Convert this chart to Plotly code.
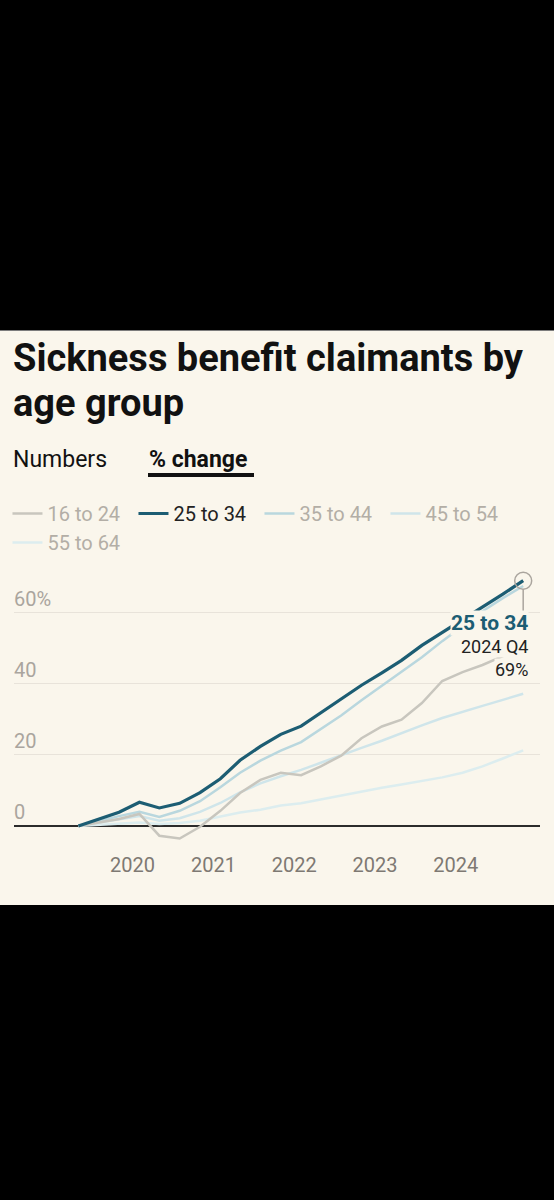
import pandas as pd
import plotly.graph_objects as go

# quarterly % change in sickness benefit claimants since 2019 Q2
quarters = ["2019Q2", "2019Q3", "2019Q4", "2020Q1", "2020Q2", "2020Q3", "2020Q4",
            "2021Q1", "2021Q2", "2021Q3", "2021Q4", "2022Q1", "2022Q2", "2022Q3",
            "2022Q4", "2023Q1", "2023Q2", "2023Q3", "2023Q4", "2024Q1", "2024Q2",
            "2024Q3", "2024Q4"]

age_16_24 = [0, 1.0, 2.0, 3.4, -2.7, -3.5, -0.2, 4.3, 9.3, 13.0, 15.0, 14.3, 16.8,
             19.8, 24.7, 28.0, 29.9, 34.6, 40.8, 43.3, 45.3, 47.8, 50.5]
age_25_34 = [0, 2.0, 3.9, 6.7, 5.1, 6.4, 9.4, 13.3, 18.5, 22.4, 25.8, 28.1, 31.8,
             35.8, 39.6, 43.1, 46.6, 50.8, 54.4, 58.0, 61.6, 65.2, 69.0]
age_35_44 = [0, 1.5, 2.8, 4.0, 2.6, 4.3, 7.0, 10.9, 15.0, 18.4, 21.2, 23.6, 27.3,
             31.1, 35.4, 39.5, 43.3, 47.5, 52.0, 56.3, 60.4, 64.1, 67.5]
age_45_54 = [0, 1.0, 1.8, 2.8, 1.5, 2.2, 4.0, 6.5, 9.5, 12.0, 14.0, 15.8, 17.8,
             20.0, 22.0, 24.0, 26.2, 28.3, 30.4, 32.2, 33.8, 35.5, 37.2]
age_55_64 = [0, 0.3, 0.6, 1.0, 0.6, 0.9, 1.5, 2.6, 3.8, 4.6, 5.8, 6.4, 7.5,
             8.6, 9.8, 10.8, 11.7, 12.7, 13.7, 15.0, 16.8, 19.0, 21.3]

# plotted at the start of each quarter's middle month
dates = [pd.Period(q, freq="Q").start_time + pd.DateOffset(months=1) for q in quarters]

BG = "#faf6ec"
TEAL = "#1c5d73"
GREY_TXT = "#b3aea6"

series = [
    ("16 to 24", age_16_24, "#c8c6be", 2.5, 1),
    ("25 to 34", age_25_34, TEAL, 3.2, 2),
    ("35 to 44", age_35_44, "#b9d7de", 2.5, 3),
    ("45 to 54", age_45_54, "#cfe5ea", 2.5, 4),
    ("55 to 64", age_55_64, "#dcedef", 2.5, 5),
]

fig = go.Figure()
# draw the highlighted line last so it sits on top
for name, vals, col, w, rank in sorted(series, key=lambda s: (s[0] == "25 to 34", -s[4])):
    label = name if name == "25 to 34" else "<span style='color:%s'>%s</span>" % (GREY_TXT, name)
    fig.add_trace(go.Scatter(x=dates, y=vals, name=label, mode="lines",
                             line=dict(color=col, width=w), legendrank=rank,
                             hoverinfo="skip"))

# end point marker
fig.add_trace(go.Scatter(x=[dates[-1]], y=[age_25_34[-1]], mode="markers", showlegend=False,
                         marker=dict(symbol="circle-open", size=17, color="#aaa59e",
                                     line=dict(width=1.5)), hoverinfo="skip"))

W, H = 554, 1200
T, PH = 570, 281
B = H - T - PH


def py(px):
    # pixel row from top -> paper y
    return (T + PH - px) / PH


fig.update_layout(
    width=W, height=H,
    margin=dict(l=14, r=14, t=T, b=B, autoexpand=False),
    paper_bgcolor=BG, plot_bgcolor=BG,
    font=dict(family="Roboto", color="#222"),
    showlegend=True,
    legend=dict(orientation="h", x=-0.0124, xanchor="left", y=py(494), yanchor="top",
                entrywidth=81, font=dict(size=20, color="#222"), itemwidth=30,
                bgcolor="rgba(0,0,0,0)"),
    xaxis=dict(range=["2018-07-14", "2025-01-16"], showgrid=False, zeroline=False,
               tickvals=["2020-01-01", "2021-01-01", "2022-01-01", "2023-01-01", "2024-01-01"],
               ticktext=["2020", "2021", "2022", "2023", "2024"],
               tickfont=dict(size=20, color="#7e7973"), ticks="", showline=False,
               fixedrange=True, automargin=False),
    yaxis=dict(range=[-7, 72], tickvals=[0, 20, 40, 60], ticktext=["0", "20", "40", "60%"],
               ticklabelposition="inside top", ticklabelstandoff=-3,
               tickfont=dict(size=20, color="#aaa59e"),
               gridcolor="#e8e3da", gridwidth=1, zeroline=True, zerolinecolor="#2b2b2b",
               zerolinewidth=1.6, showline=False, ticks="", fixedrange=True, automargin=False),
)

ann = [
    dict(text="Sickness benefit claimants by", x=0, y=py(358), font=dict(size=38, weight=700, color="#111")),
    dict(text="age group", x=0, y=py(403), font=dict(size=38, weight=700, color="#111")),
    dict(text="Numbers", x=0, y=py(459), font=dict(size=23, color="#111")),
    dict(text="% change", x=(150 - 14) / 526, y=py(459), font=dict(size=23, weight=700, color="#111")),
]
for a in ann:
    fig.add_annotation(xref="paper", yref="paper", xanchor="left", yanchor="middle",
                       xshift=-3, showarrow=False, **a)

# underline for the active toggle
fig.add_shape(type="rect", xref="paper", yref="paper", x0=(148 - 14) / 526, x1=(254 - 14) / 526,
              y0=py(477), y1=py(473), fillcolor="#111", line_width=0)

# callout for the highlighted series
end_val = age_25_34[-1]
fig.add_shape(type="line", xref="x", yref="y", x0=dates[-1], x1=dates[-1],
              y0=end_val - 2.4, y1=end_val - 8.7, line=dict(color="#aaa59e", width=1.5))
callout = [
    ("<b>25 to 34</b>", 21, TEAL, -42),
    ("2024 Q4", 18, "#222", -66),
    ("%d%%" % round(end_val), 18, "#222", -89),
]
for txt, size, col, dy in callout:
    fig.add_annotation(x=dates[-1], y=end_val, xanchor="right", yanchor="middle",
                       xshift=6, yshift=dy, showarrow=False, bgcolor=BG, borderpad=0,
                       text=txt, font=dict(size=size, color=col))

# phone screenshot black bands
fig.add_shape(type="rect", xref="paper", yref="paper", x0=-0.1, x1=1.1, y0=py(330), y1=py(-10),
              fillcolor="#000", line_width=0, layer="above")
fig.add_shape(type="line", xref="paper", yref="paper", x0=-0.1, x1=1.1, y0=py(330.5), y1=py(330.5),
              line=dict(color="#7c7c7c", width=1), layer="above")
fig.add_shape(type="rect", xref="paper", yref="paper", x0=-0.1, x1=1.1, y0=py(1210), y1=py(905),
              fillcolor="#000", line_width=0, layer="above")

fig.write_html("out.html", config={"displayModeBar": False},
               post_script="document.body.style.margin='0';")
